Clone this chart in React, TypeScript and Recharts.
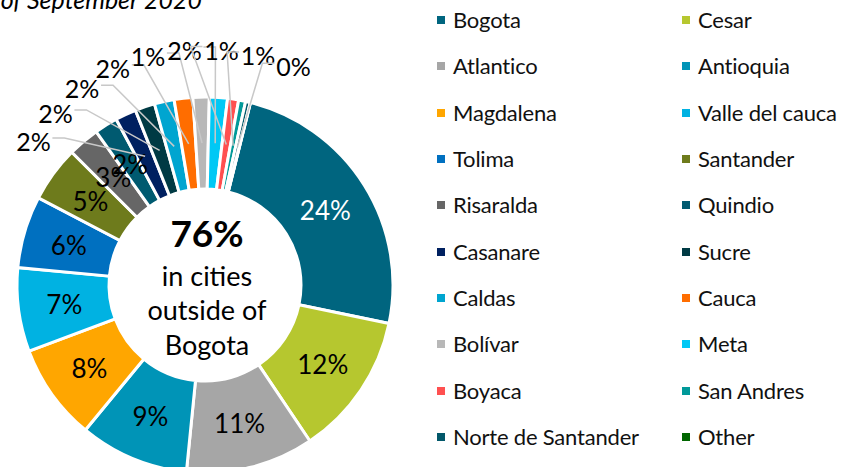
import React from 'react';
import { PieChart, Pie, Cell, Legend } from 'recharts';

const categories = [
  'Bogota', 'Cesar', 'Atlantico', 'Antioquia', 'Magdalena', 'Valle del cauca', 'Tolima',
  'Santander', 'Risaralda', 'Quindio', 'Casanare', 'Sucre', 'Caldas', 'Cauca', 'Bolívar',
  'Meta', 'Boyaca', 'San Andres', 'Norte de Santander', 'Other',
];
const shares = [24.4, 12.3, 11.0, 9.4, 8.3, 7.2, 6.2, 4.8, 2.7, 2.0, 1.8, 1.7, 1.7, 1.6, 1.4, 1.55, 0.95, 0.6, 0.4, 0.02];
const colors = [
  '#00657F', '#B6C72F', '#A6A6A6', '#0094B7', '#FFA600', '#00B2E2', '#0070C0',
  '#6E7B1C', '#666666', '#005A70', '#002060', '#003A44', '#00A5D0', '#FF6D00', '#B8B8B8',
  '#00C8F5', '#FF5050', '#009999', '#02586A', '#006600',
];
const centerHeadline = '76%';
const centerLines = ['in cities', 'outside of', 'Bogota'];
const title = 'as of September 2020';

const data = categories.map((name, i) => ({ name, value: shares[i], fill: colors[i] }));

const FONT = 'Lato, "Gill Sans", sans-serif';
const RAD = Math.PI / 180;
const INSIDE_MIN = 0.019;
const CX = 205;
const CY = 285;

const total = shares.reduce((a, b) => a + b, 0);
const smallOrder: number[] = [];
{
  let k = 0;
  data.forEach((d, i) => {
    const p = d.value / total;
    if (p < INSIDE_MIN && p >= 0.001) {
      smallOrder[i] = k;
      k += 1;
    } else smallOrder[i] = -1;
  });
}

function renderLabel(props: any) {
  const { cx, cy, midAngle, innerRadius, outerRadius, percent, index } = props;
  if (percent < 0.001) return null;
  const txt = `${Math.round(percent * 100)}%`;
  const rMid = (innerRadius + outerRadius) / 2;
  const tx = cx + rMid * Math.cos(-midAngle * RAD);
  const ty = cy + rMid * Math.sin(-midAngle * RAD);
  if (percent >= INSIDE_MIN) {
    return (
      <text key={`l${index}`} x={tx} y={ty} textAnchor="middle" dominantBaseline="central"
        fill={index === 0 ? '#ffffff' : '#000000'} fontSize={26} fontFamily={FONT}>
        {txt}
      </text>
    );
  }
  const k = smallOrder[index];
  const angCw = -50 + k * 9;
  const R = outerRadius + 48 + (k < 4 ? (3 - k) * -4 : 0);
  const lx = cx + R * Math.sin(angCw * RAD);
  const ly = cy - R * Math.cos(angCw * RAD);
  const half = 16;
  const rightward = tx > lx + 6;
  const sx = rightward ? lx + half + 3 : lx - half - 3;
  const sy = ly - 3;
  const hx = rightward ? sx + 12 : sx - 12;
  return (
    <g key={`l${index}`}>
      <polyline points={`${sx},${sy} ${hx},${sy} ${tx},${ty}`} fill="none" stroke="#C8C8C8" strokeWidth={1.5} />
      <text x={lx} y={ly} textAnchor="middle" dominantBaseline="central" fill="#000" fontSize={25} fontFamily={FONT}>
        {txt}
      </text>
    </g>
  );
}

function renderLegend(props: any) {
  const payload = [...(props.payload || [])].sort(
    (a: any, b: any) => categories.indexOf(a.value) - categories.indexOf(b.value),
  );
  return (
    <div style={{ position: 'relative', width: 0, height: 0 }}>
      {payload.map((entry: any, i: number) => {
        const row = Math.floor(i / 2);
        const col = i % 2;
        const left = col === 0 ? 437 : 682;
        const top = 20 + row * 46.35 - 15;
        const idx = categories.indexOf(entry.value);
        return (
          <div key={entry.value} style={{ position: 'absolute', left, top, height: 30, display: 'flex', alignItems: 'center', whiteSpace: 'nowrap' }}>
            <div style={{ width: 8, height: 8, background: colors[idx], marginRight: 8 }} />
            <span style={{ fontFamily: FONT, fontSize: 22, letterSpacing: -0.2, color: '#111', lineHeight: '30px' }}>{entry.value}</span>
          </div>
        );
      })}
    </div>
  );
}

export default function App() {
  return (
    <div style={{ position: 'absolute', left: 0, top: 0, width: 842, height: 467, background: '#fff', overflow: 'hidden' }}>
      <PieChart width={842} height={467} margin={{ top: 0, right: 0, bottom: 0, left: 0 }}>
        <Pie
          data={data}
          dataKey="value"
          nameKey="name"
          cx={CX}
          cy={CY}
          innerRadius={96}
          outerRadius={188}
          startAngle={76}
          endAngle={-284}
          stroke="#ffffff"
          strokeWidth={3}
          label={renderLabel}
          labelLine={false}
          isAnimationActive={false}
        >
          {data.map((d, i) => (
            <Cell key={d.name} fill={colors[i]} />
          ))}
        </Pie>
        <Legend content={renderLegend} itemSorter={null as any} wrapperStyle={{ left: 0, top: 0, width: 0, height: 0 }} />
        <text x={207} y={232} textAnchor="middle" dominantBaseline="central" fontFamily={FONT} fontWeight="bold" fontSize={37} fill="#000">
          {centerHeadline}
        </text>
        {centerLines.map((t, i) => (
          <text key={t} x={207} y={275 + i * 34.5} textAnchor="middle" dominantBaseline="central" fontFamily={FONT} fontSize={27} fill="#000">
            {t}
          </text>
        ))}
        <text x={202} y={9} textAnchor="end" fontFamily={FONT} fontStyle="italic" fontSize={25} fill="#000">
          {title}
        </text>
      </PieChart>
    </div>
  );
}
